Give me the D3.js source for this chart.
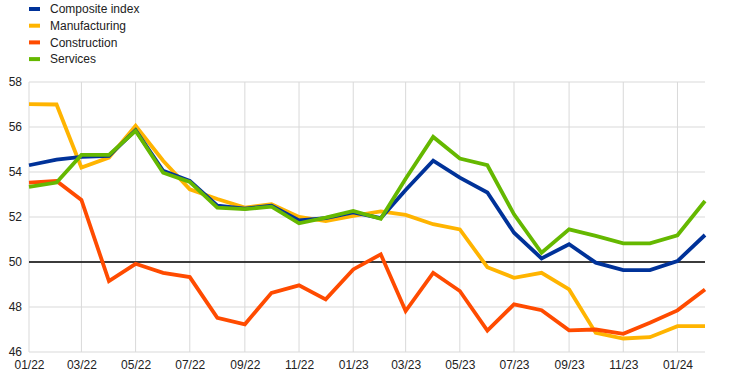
<!DOCTYPE html>
<html>
<head>
<meta charset="utf-8">
<script src="https://cdn.jsdelivr.net/npm/d3@7"></script>
<style>
  body { margin: 0; background: #fff; }
  text { font-family: Arial, "Liberation Sans", sans-serif; }
</style>
</head>
<body>
<div id="chart"></div>
<script>
// monthly, 01/22 .. 02/24
const months = d3.range(26).map(i => new Date(2022, i, 1));

const composite = [54.3, 54.55, 54.67, 54.72, 55.86, 54.05, 53.6, 52.5, 52.37, 52.5,
  51.85, 51.95, 52.2, 51.95, 53.2, 54.5, 53.75, 53.09, 51.3, 50.16,
  50.79, 49.97, 49.64, 49.64, 50.04, 51.2];
const manufacturing = [57.02, 57.0, 54.2, 54.64, 56.05, 54.5, 53.23, 52.8, 52.42, 52.57,
  52.0, 51.82, 52.05, 52.25, 52.09, 51.68, 51.45, 49.77, 49.3, 49.52,
  48.78, 46.85, 46.6, 46.66, 47.15, 47.15];
const construction = [53.53, 53.6, 52.76, 49.15, 49.92, 49.52, 49.33, 47.52, 47.23, 48.63,
  48.96, 48.34, 49.67, 50.34, 47.82, 49.52, 48.71, 46.95, 48.12, 47.86,
  46.96, 47.0, 46.81, 47.3, 47.85, 48.78];
const services = [53.34, 53.53, 54.76, 54.76, 55.83, 53.97, 53.56, 52.42, 52.35, 52.46,
  51.72, 51.97, 52.27, 51.92, 53.7, 55.56, 54.6, 54.3, 52.12, 50.41,
  51.45, 51.16, 50.83, 50.83, 51.19, 52.71];

const yTicks = [46, 48, 50, 52, 54, 56, 58];
const xTickLabels = ['01/22', '03/22', '05/22', '07/22', '09/22', '11/22', '01/23',
  '03/23', '05/23', '07/23', '09/23', '11/23', '01/24'];

const series = [
  { name: 'Manufacturing', values: manufacturing, color: '#ffb400' },
  { name: 'Construction', values: construction, color: '#ff4b00' },
  { name: 'Composite index', values: composite, color: '#003299' },
  { name: 'Services', values: services, color: '#65b800' }
];
const legendOrder = ['Composite index', 'Manufacturing', 'Construction', 'Services'];

const W = 742, H = 377;
const margin = { top: 82, right: 37, bottom: 25, left: 29 };
const width = W - margin.left - margin.right;
const height = H - margin.top - margin.bottom;

const svg = d3.select('#chart').append('svg')
  .attr('width', W)
  .attr('height', H);

const g = svg.append('g')
  .attr('transform', 'translate(' + margin.left + ',' + margin.top + ')');

const x = d3.scaleTime()
  .domain(d3.extent(months))
  .range([0, width]);

const y = d3.scaleLinear()
  .domain([46, 58])
  .range([height, 0]);

// gridlines
const xTickDates = xTickLabels.map(s => new Date(2000 + +s.slice(3), +s.slice(0, 2) - 1, 1));

g.append('g')
  .selectAll('line.h')
  .data(yTicks)
  .join('line')
  .attr('x1', 0).attr('x2', width)
  .attr('y1', d => y(d)).attr('y2', d => y(d))
  .attr('stroke', '#d9d9d9')
  .attr('stroke-width', 1);

g.append('g')
  .selectAll('line.v')
  .data(xTickDates)
  .join('line')
  .attr('x1', d => x(d)).attr('x2', d => x(d))
  .attr('y1', 0).attr('y2', height)
  .attr('stroke', '#d9d9d9')
  .attr('stroke-width', 1);

// 50 reference line
g.append('line')
  .attr('x1', 0).attr('x2', width)
  .attr('y1', y(50)).attr('y2', y(50))
  .attr('stroke', '#000')
  .attr('stroke-width', 1.5);

// axes (labels only)
const yAxis = g.append('g')
  .call(d3.axisLeft(y).tickValues(yTicks).tickSize(0).tickPadding(7));
yAxis.select('.domain').remove();
yAxis.selectAll('text').attr('font-size', 12).attr('fill', '#222')
  .attr('font-family', 'Arial, "Liberation Sans", sans-serif');

const xAxis = g.append('g')
  .attr('transform', 'translate(0,' + height + ')')
  .call(d3.axisBottom(x).tickValues(xTickDates).tickSize(0).tickPadding(8)
    .tickFormat((d, i) => xTickLabels[i]));
xAxis.select('.domain').remove();
xAxis.selectAll('text').attr('font-size', 12).attr('fill', '#222')
  .attr('font-family', 'Arial, "Liberation Sans", sans-serif');

// lines
const line = d3.line()
  .x((d, i) => x(months[i]))
  .y(d => y(d));

series.forEach(s => {
  g.append('path')
    .datum(s.values)
    .attr('fill', 'none')
    .attr('stroke', s.color)
    .attr('stroke-width', 3.8)
    .attr('stroke-linejoin', 'miter')
    .attr('d', line);
});

// legend
const legend = svg.append('g').attr('transform', 'translate(29,9)');
legendOrder.forEach((name, i) => {
  const s = series.find(d => d.name === name);
  const row = legend.append('g').attr('transform', 'translate(0,' + (i * 16.7) + ')');
  row.append('rect')
    .attr('x', 0).attr('y', -2)
    .attr('width', 11).attr('height', 4)
    .attr('fill', s.color);
  row.append('text')
    .attr('x', 21).attr('y', 0)
    .attr('dy', '0.35em')
    .attr('font-size', 12)
    .attr('fill', '#222')
    .text(name);
});
</script>
</body>
</html>
